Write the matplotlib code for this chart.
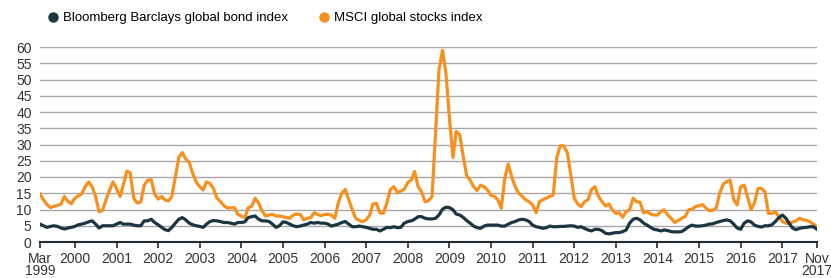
import numpy as np
import pandas as pd
import matplotlib
matplotlib.use("Agg")
import matplotlib.pyplot as plt
from matplotlib.lines import Line2D

plt.rcParams['font.family'] = ['Liberation Sans', 'DejaVu Sans']

# monthly readings, Mar 1999 .. Nov 2017
stocks = [
    14.8, 13.0, 11.5, 10.6, 11.0, 11.3, 11.6, 14.0, 12.5, 11.8,  # 1999
    13.5, 14.2, 14.8, 17.0, 18.5, 17.0, 14.0, 9.3, 9.8, 13.0, 16.0, 18.5,  # 2000
    16.5, 14.0, 17.5, 21.8, 21.3, 13.5, 12.0, 12.3, 17.5, 19.0, 19.2, 14.8,  # 2001
    13.2, 14.0, 13.0, 12.6, 14.0, 20.0, 26.0, 27.5, 25.5, 24.5, 21.0, 18.5,  # 2002
    17.0, 16.0, 18.5, 18.0, 16.5, 13.5, 12.5, 11.2, 10.5, 10.5, 10.6, 8.5,  # 2003
    8.0, 7.5, 10.5, 11.0, 13.5, 12.0, 9.5, 8.0, 8.3, 8.5, 8.0, 8.0,  # 2004
    7.8, 7.5, 7.3, 8.3, 8.6, 8.5, 6.8, 7.3, 7.5, 9.0, 8.5, 8.1,  # 2005
    8.5, 8.5, 8.3, 7.3, 12.0, 15.0, 16.2, 13.0, 9.9, 7.3, 6.6, 6.3,  # 2006
    6.8, 8.3, 11.7, 11.9, 9.0, 8.8, 11.9, 16.2, 17.0, 15.2, 15.7, 16.2,  # 2007
    18.3, 19.1, 21.7, 17.0, 15.5, 12.4, 12.7, 14.0, 33.5, 53.0, 59.0, 52.0,  # 2008
    38.0, 26.0, 34.0, 33.0, 26.5, 20.5, 19.0, 17.0, 15.8, 17.5, 17.0, 16.0,  # 2009
    14.3, 14.0, 13.0, 10.4, 19.6, 24.0, 20.1, 17.0, 15.0, 14.0, 13.0, 12.4,  # 2010
    11.4, 9.0, 12.4, 13.0, 13.5, 14.0, 14.5, 26.0, 29.6, 29.6, 27.5, 21.0,  # 2011
    13.5, 11.7, 10.9, 12.4, 13.0, 16.2, 17.0, 14.0, 12.4, 11.1, 11.7, 9.9,  # 2012
    8.8, 9.0, 7.6, 9.4, 9.9, 13.5, 12.4, 12.2, 9.0, 9.4, 8.6, 8.3,  # 2013
    8.3, 9.4, 9.9, 8.3, 7.3, 6.0, 6.6, 7.3, 7.8, 9.9, 10.1, 10.9,  # 2014
    11.2, 11.5, 10.5, 9.6, 9.8, 10.5, 15.0, 17.8, 18.6, 19.0, 13.0, 11.4,  # 2015
    17.0, 17.5, 14.0, 10.0, 12.0, 16.5, 16.5, 15.5, 8.8, 8.8, 9.3, 7.8,  # 2016
    6.3, 5.8, 5.7, 6.2, 6.5, 7.3, 6.8, 6.7, 6.2, 5.5, 4.7,  # 2017
]

bonds = [
    5.5, 5.0, 4.5, 4.8, 5.0, 4.8, 4.3, 4.0, 4.3, 4.5,  # 1999
    4.8, 5.3, 5.5, 5.8, 6.2, 6.5, 5.5, 4.3, 5.0, 5.0, 5.0, 5.0,  # 2000
    5.5, 6.0, 5.5, 5.5, 5.5, 5.2, 5.0, 5.0, 6.5, 6.5, 7.0, 6.0,  # 2001
    5.3, 4.5, 3.8, 3.5, 4.5, 5.8, 7.0, 7.5, 6.8, 5.8, 5.3, 5.0,  # 2002
    4.8, 4.5, 5.5, 6.3, 6.6, 6.5, 6.3, 6.0, 6.0, 5.8, 5.5, 6.0,  # 2003
    6.0, 6.2, 7.5, 7.8, 8.0, 7.0, 6.5, 6.5, 6.3, 5.5, 4.5, 5.0,  # 2004
    6.2, 6.0, 5.5, 5.0, 4.7, 4.9, 5.2, 5.5, 6.0, 5.8, 6.0, 5.8,  # 2005
    5.8, 5.5, 4.9, 5.2, 5.5, 6.0, 6.3, 5.5, 4.7, 4.7, 4.9, 4.7,  # 2006
    4.5, 4.2, 3.9, 3.9, 3.4, 3.9, 4.5, 4.4, 4.7, 4.4, 4.5, 5.8,  # 2007
    6.3, 6.5, 7.0, 7.8, 7.8, 7.3, 7.1, 7.1, 7.3, 8.3, 10.1, 10.7,  # 2008
    10.6, 9.9, 8.6, 8.3, 7.6, 6.6, 5.8, 4.9, 4.4, 4.2, 4.9, 5.2,  # 2009
    5.2, 5.2, 5.2, 4.9, 4.9, 5.5, 6.0, 6.3, 6.8, 7.0, 6.8, 6.3,  # 2010
    5.2, 4.7, 4.5, 4.2, 4.4, 4.9, 4.7, 4.7, 4.8, 4.8, 4.9, 5.0,  # 2011
    4.9, 4.5, 4.7, 4.2, 3.7, 3.4, 3.9, 3.9, 3.5, 2.7, 2.5, 2.7,  # 2012
    2.9, 2.9, 3.2, 3.7, 5.8, 7.0, 7.3, 6.8, 5.8, 5.2, 4.5, 3.9,  # 2013
    3.7, 3.4, 3.7, 3.5, 3.2, 3.1, 3.1, 3.2, 3.9, 4.7, 5.2, 4.9,  # 2014
    4.9, 5.0, 5.2, 5.5, 5.6, 6.0, 6.3, 6.6, 6.8, 6.5, 5.5, 4.3,  # 2015
    3.9, 5.8, 6.5, 6.2, 5.2, 4.8, 4.6, 5.0, 5.0, 5.3, 6.3, 7.5,  # 2016
    8.3, 7.3, 5.8, 4.3, 3.8, 4.2, 4.4, 4.5, 4.7, 4.7, 3.9,  # 2017
]

dates = pd.date_range('1999-03-01', '2017-11-01', freq='MS')
tick_dates = [pd.Timestamp('1999-03-01')] + [pd.Timestamp(f'{y}-01-01') for y in range(2000, 2018)] + [pd.Timestamp('2017-11-01')]
tick_labels = ['Mar\n1999'] + [str(y) for y in range(2000, 2018)] + ['Nov\n2017']

orange = '#F7901E'
dark = '#1B3640'

fig = plt.figure(figsize=(8.31, 2.78), dpi=100)
ax = fig.add_axes([40 / 831, 36 / 278, 777 / 831, (242 - 47) / 278])

ax.plot(dates, stocks, color=orange, lw=2.3, solid_joinstyle='round', zorder=3)
ax.plot(dates, bonds, color=dark, lw=2.3, solid_joinstyle='round', zorder=4)

ax.set_xlim(dates[0], dates[-1])
ax.set_ylim(0, 60)
ax.set_yticks(range(0, 61, 5))
ax.set_xticks(tick_dates)
ax.set_xticklabels(tick_labels, linespacing=0.85)

ax.grid(axis='y', color='#A8A8A8', lw=1.0, zorder=0)
ax.set_axisbelow(True)
for s in ['top', 'right', 'left']:
    ax.spines[s].set_visible(False)
ax.spines['bottom'].set_color('#1E2A30')
ax.spines['bottom'].set_linewidth(1.5)

ax.tick_params(axis='y', length=0, pad=6, labelsize=10, labelcolor='#333333')
ax.tick_params(axis='x', length=4, width=1.2, color='#1E2A30', pad=3, labelsize=10, labelcolor='#333333')
for lab in ax.get_yticklabels():
    lab.set_clip_on(False)

handles = [
    Line2D([], [], marker='o', ls='', color=dark, markersize=6.5),
    Line2D([], [], marker='o', ls='', color=orange, markersize=6.5),
]
fig.legend(handles, ['Bloomberg Barclays global bond index', 'MSCI global stocks index'],
           loc='upper left', bbox_to_anchor=(38 / 831, 1 - 4 / 278), ncol=2, frameon=False,
           fontsize=9.5, handletextpad=0.3, columnspacing=2.2, handlelength=1.0,
           borderaxespad=0.2)

fig.savefig('out.png', dpi=100)
